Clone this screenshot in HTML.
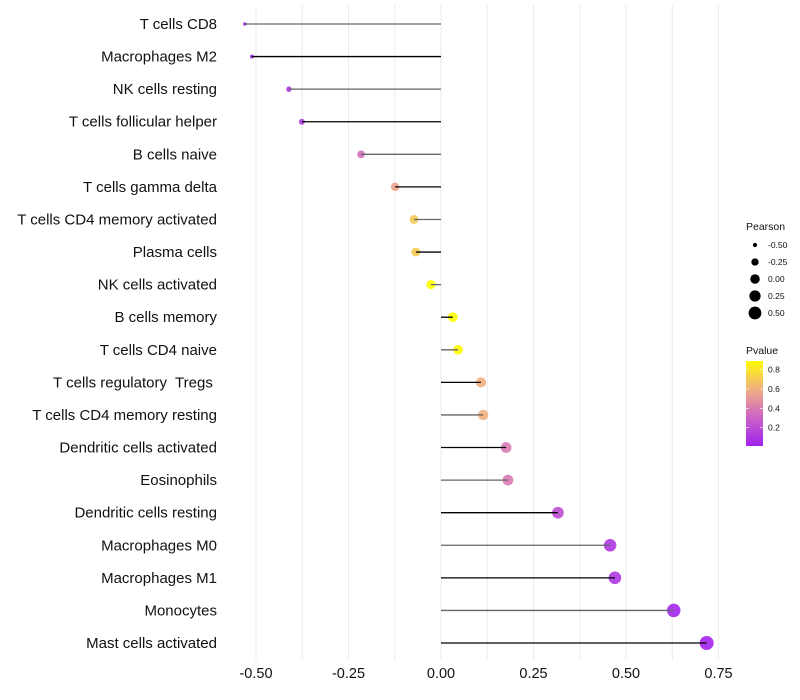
<!DOCTYPE html>
<html><head><meta charset="utf-8"><style>
body{margin:0;background:#fff;}
svg{display:block;font-family:"Liberation Sans",sans-serif;}
</style></head><body>
<svg id="chart" width="800" height="700"></svg>
<script>
const categories=["T cells CD8","Macrophages M2","NK cells resting","T cells follicular helper","B cells naive","T cells gamma delta","T cells CD4 memory activated","Plasma cells","NK cells activated","B cells memory","T cells CD4 naive","T cells regulatory  Tregs ","T cells CD4 memory resting","Dendritic cells activated","Eosinophils","Dendritic cells resting","Macrophages M0","Macrophages M1","Monocytes","Mast cells activated"];
const pearson=[-0.53,-0.511,-0.411,-0.376,-0.216,-0.124,-0.073,-0.068,-0.027,0.032,0.046,0.108,0.114,0.176,0.181,0.316,0.457,0.47,0.629,0.718];
const pvalues=[0.02,0.03,0.1,0.13,0.35,0.55,0.7,0.7,0.9,0.9,0.88,0.6,0.6,0.4,0.4,0.2,0.1,0.1,0.03,0.02];
const xTicks=[-0.5,-0.25,0,0.25,0.5,0.75];
const xTickLabels=["-0.50","-0.25","0.00","0.25","0.50","0.75"];
const legendSizes=[-0.5,-0.25,0,0.25,0.5];
const legendSizeLabels=["-0.50","-0.25","0.00","0.25","0.50"];
const colorTicks=[0.2,0.4,0.6,0.8];

const NS="http://www.w3.org/2000/svg";
const svg=document.getElementById('chart');
function mk(t,a,p){const e=document.createElementNS(NS,t);for(const k in a)e.setAttribute(k,a[k]);(p||svg).appendChild(e);return e;}
const x=v=>441+v*370;
const y=i=>24+i*(643-24)/(categories.length-1);
const r=v=>Math.sqrt(Math.max(1,22.6+36.6*v));
const stops=[[0,[160,32,240]],[0.35,[210,110,190]],[0.6,[240,176,128]],[0.9,[255,255,0]]];
function col(p){p=Math.max(0,Math.min(0.9,p));for(let i=1;i<stops.length;i++){if(p<=stops[i][0]){const a=stops[i-1],b=stops[i],t=(p-a[0])/(b[0]-a[0]);return 'rgb('+a[1].map((c,j)=>Math.round(c+(b[1][j]-c)*t)).join(',')+')';}}return 'rgb(255,255,0)';}

for(let v=-0.5;v<=0.751;v+=0.125){const g=mk('line',{x1:x(v),x2:x(v),y1:5,y2:660,stroke:'#ebebeb','stroke-width':1});

}
xTicks.forEach((v,i)=>{const t=mk('text',{x:x(v),y:678,'text-anchor':'middle','font-size':14.5,fill:'#111'});t.textContent=xTickLabels[i];

});
categories.forEach((c,i)=>{
const t=mk('text',{x:217,y:y(i)+5,'text-anchor':'end','font-size':15,fill:'#111',style:'white-space:pre'});t.textContent=c;


const pt=mk('circle',{cx:x(pearson[i]),cy:y(i),r:r(pearson[i]),fill:col(pvalues[i]),'fill-opacity':0.9});


const l=mk('line',{x1:x(0),x2:x(pearson[i]),y1:y(i),y2:y(i),stroke:i%2?'#000':'#666','stroke-width':1.3});


});
const lt=mk('text',{x:746,y:230,'font-size':10.5,fill:'#111'});lt.textContent='Pearson';


legendSizes.forEach((v,i)=>{const cy=245+i*17;
const c=mk('circle',{cx:755,cy:cy,r:r(v),fill:'#000'});


const t=mk('text',{x:768,y:cy+3,'font-size':8.5,fill:'#111'});t.textContent=legendSizeLabels[i];

});
const ct=mk('text',{x:746,y:354,'font-size':10.5,fill:'#111'});ct.textContent='Pvalue';


const defs=mk('defs',{});const lg=mk('linearGradient',{id:'pg',x1:0,y1:1,x2:0,y2:0},defs);
const cy=p=>446-(p-0.01)*(446-361)/(0.89-0.01);
for(let k=0;k<=10;k++){const p=0.01+k*0.088;mk('stop',{offset:k/10,'stop-color':col(p)},lg);}
const bar=mk('rect',{x:746,y:361,width:17,height:85,fill:'url(#pg)'});


colorTicks.forEach(p=>{
mk('line',{x1:746,x2:749,y1:cy(p),y2:cy(p),stroke:'#fff','stroke-width':0.6});
mk('line',{x1:760,x2:763,y1:cy(p),y2:cy(p),stroke:'#fff','stroke-width':0.6});
const t=mk('text',{x:768,y:cy(p)+3,'font-size':8.5,fill:'#111'});t.textContent=p.toFixed(1);

});
</script>
</body></html>
